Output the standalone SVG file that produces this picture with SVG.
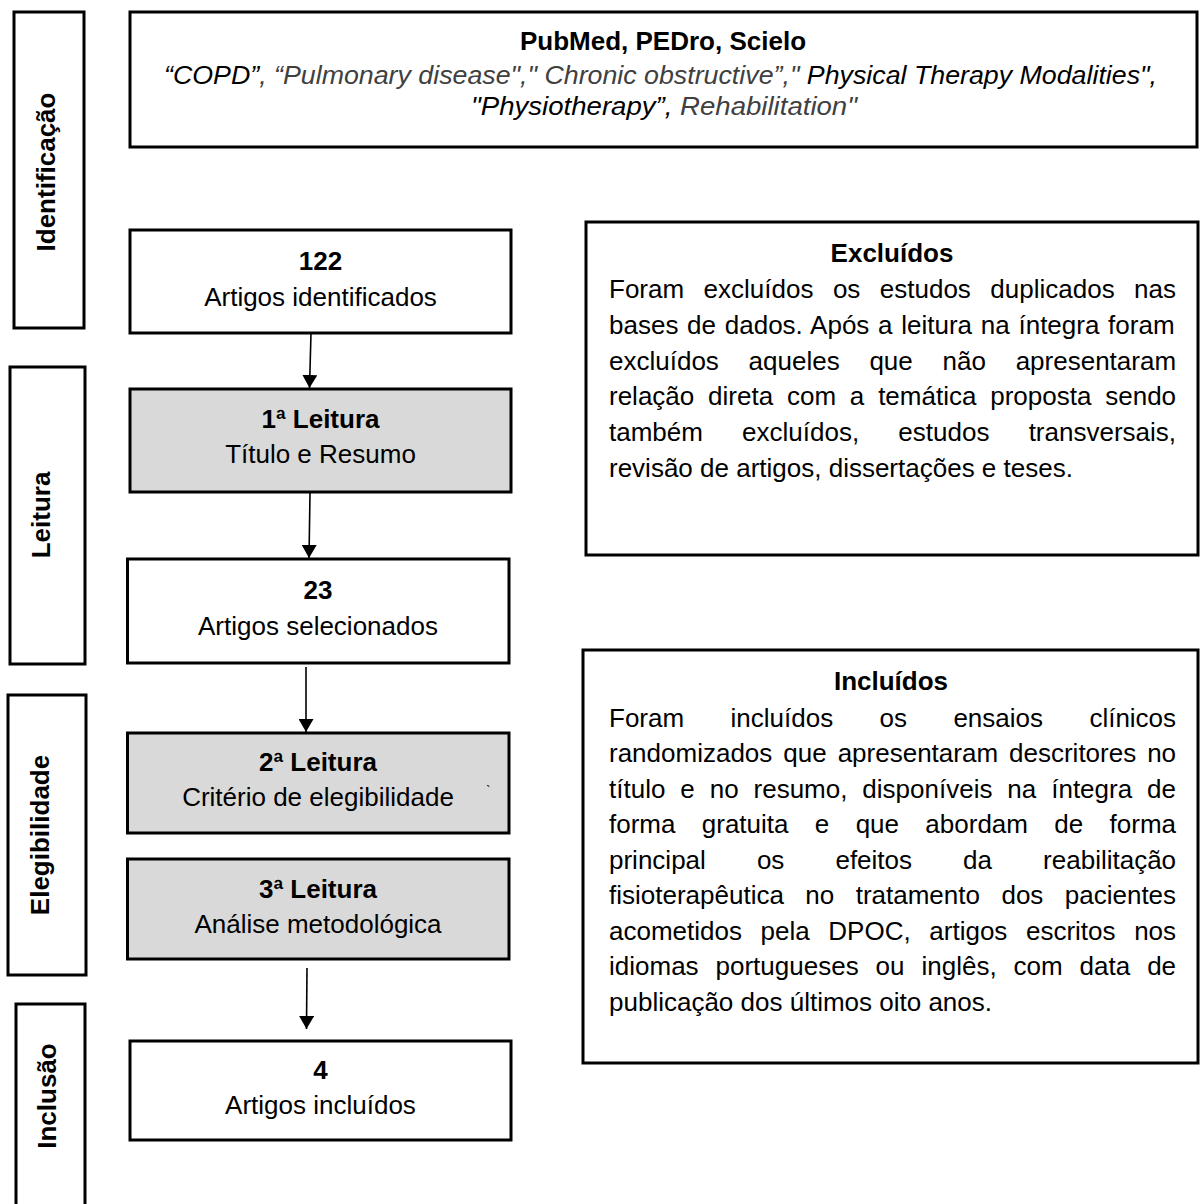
<svg xmlns="http://www.w3.org/2000/svg" width="1202" height="1204" viewBox="0 0 1202 1204">
<style>
.box{fill:#fff;stroke:#000;stroke-width:3}
.gray{fill:#d9d9d9}
.t{font-family:"Liberation Sans",Arial,sans-serif;font-size:26px;fill:#000}
.b{font-weight:bold}
.c{text-anchor:middle}
.i{font-style:italic}
.g{fill:#404040}
.conn{stroke:#000;stroke-width:1.6;fill:none;marker-end:url(#ah)}
</style>
<defs>
<marker id="ah" markerWidth="13" markerHeight="15" refX="13" refY="7.5" orient="auto" markerUnits="userSpaceOnUse">
<path d="M0,0 L13,7.5 L0,15 z" fill="#000"/>
</marker>
</defs>
<rect width="1202" height="1204" fill="#fff"/>

<g id="label-identificacao">
<rect class="box" x="14" y="12" width="70" height="316"/>
<text class="t b c" transform="translate(55,172) rotate(-90)">Identificação</text>
</g>
<g id="label-leitura">
<rect class="box" x="10" y="367" width="75" height="297"/>
<text class="t b c" transform="translate(50,515) rotate(-90)">Leitura</text>
</g>
<g id="label-elegibilidade">
<rect class="box" x="8" y="695" width="78" height="280"/>
<text class="t b c" transform="translate(49,835) rotate(-90)">Elegibilidade</text>
</g>
<g id="label-inclusao">
<rect class="box" x="16" y="1004" width="69" height="220"/>
<text class="t b c" transform="translate(56,1096) rotate(-90)">Inclusão</text>
</g>

<g id="search">
<rect class="box" x="130" y="12" width="1067" height="135"/>
<text class="t b c" x="663" y="50">PubMed, PEDro, Scielo</text>
<text class="t i" x="164" y="84" textLength="993" lengthAdjust="spacingAndGlyphs"><tspan>“COPD”</tspan><tspan class="g">, “Pulmonary disease","</tspan><tspan class="g"> Chronic obstructive”,"</tspan><tspan> Physical Therapy Modalities",</tspan></text>
<text class="t i" x="471" y="115" textLength="386" lengthAdjust="spacingAndGlyphs"><tspan>"Physiotherapy”,</tspan><tspan class="g"> Rehabilitation"</tspan></text>
</g>

<g id="n122">
<rect class="box" x="130" y="230" width="381" height="103"/>
<text class="t b c" x="320.5" y="270">122</text>
<text class="t c" x="320.5" y="306">Artigos identificados</text>
</g>
<g id="leitura1">
<rect class="box gray" x="130" y="389" width="381" height="103"/>
<text class="t b c" x="320.5" y="428">1ª Leitura</text>
<text class="t c" x="320.5" y="463">Título e Resumo</text>
</g>
<g id="n23">
<rect class="box" x="127.5" y="559" width="381.5" height="104"/>
<text class="t b c" x="318" y="599">23</text>
<text class="t c" x="318" y="635">Artigos selecionados</text>
</g>
<g id="leitura2">
<rect class="box gray" x="127.5" y="733" width="381.5" height="100"/>
<text class="t b c" x="318" y="771">2ª Leitura</text>
<text class="t c" x="318" y="806">Critério de elegibilidade</text>
<text class="t" x="486" y="796" style="font-size:14px">`</text>
</g>
<g id="leitura3">
<rect class="box gray" x="127.5" y="859" width="381.5" height="100"/>
<text class="t b c" x="318" y="898">3ª Leitura</text>
<text class="t c" x="318" y="933">Análise metodológica</text>
</g>
<g id="n4">
<rect class="box" x="130" y="1041" width="381" height="99"/>
<text class="t b c" x="320.5" y="1079">4</text>
<text class="t c" x="320.5" y="1114">Artigos incluídos</text>
</g>

<g id="excluidos">
<rect class="box" x="586" y="222" width="612" height="333"/>
<text class="t b c" x="892" y="262">Excluídos</text>
<text class="t" x="609" y="298" style="word-spacing:12.24px">Foram excluídos os estudos duplicados nas</text>
<text class="t" x="609" y="334" style="word-spacing:1.5px">bases de dados. Após a leitura na íntegra foram</text>
<text class="t" x="609" y="369.5" style="word-spacing:22.52px">excluídos aqueles que não apresentaram</text>
<text class="t" x="609" y="405" style="word-spacing:6.59px">relação direta com a temática proposta sendo</text>
<text class="t" x="609" y="441" style="word-spacing:31.97px">também excluídos, estudos transversais,</text>
<text class="t" x="609" y="476.5">revisão de artigos, dissertações e teses.</text>
</g>

<g id="incluidos">
<rect class="box" x="583" y="650" width="615" height="413"/>
<text class="t b c" x="891" y="690">Incluídos</text>
<text class="t" x="609" y="726.5" style="word-spacing:39.17px">Foram incluídos os ensaios clínicos</text>
<text class="t" x="609" y="762" style="word-spacing:3.75px">randomizados que apresentaram descritores no</text>
<text class="t" x="609" y="797.5" style="word-spacing:7.7px">título e no resumo, disponíveis na íntegra de</text>
<text class="t" x="609" y="833" style="word-spacing:19.11px">forma gratuita e que abordam de forma</text>
<text class="t" x="609" y="868.5" style="word-spacing:43.85px">principal os efeitos da reabilitação</text>
<text class="t" x="609" y="904" style="word-spacing:14.22px">fisioterapêutica no tratamento dos pacientes</text>
<text class="t" x="609" y="939.5" style="word-spacing:11.39px">acometidos pela DPOC, artigos escritos nos</text>
<text class="t" x="609" y="975" style="word-spacing:9.72px">idiomas portugueses ou inglês, com data de</text>
<text class="t" x="609" y="1010.5">publicação dos últimos oito anos.</text>
</g>

<g id="connectors">
<path class="conn" d="M311,333 L309.5,388"/>
<path class="conn" d="M310,493 L309,558"/>
<path class="conn" d="M306,667 L306,732"/>
<path class="conn" d="M307,968 L306.5,1029"/>
</g>
</svg>
